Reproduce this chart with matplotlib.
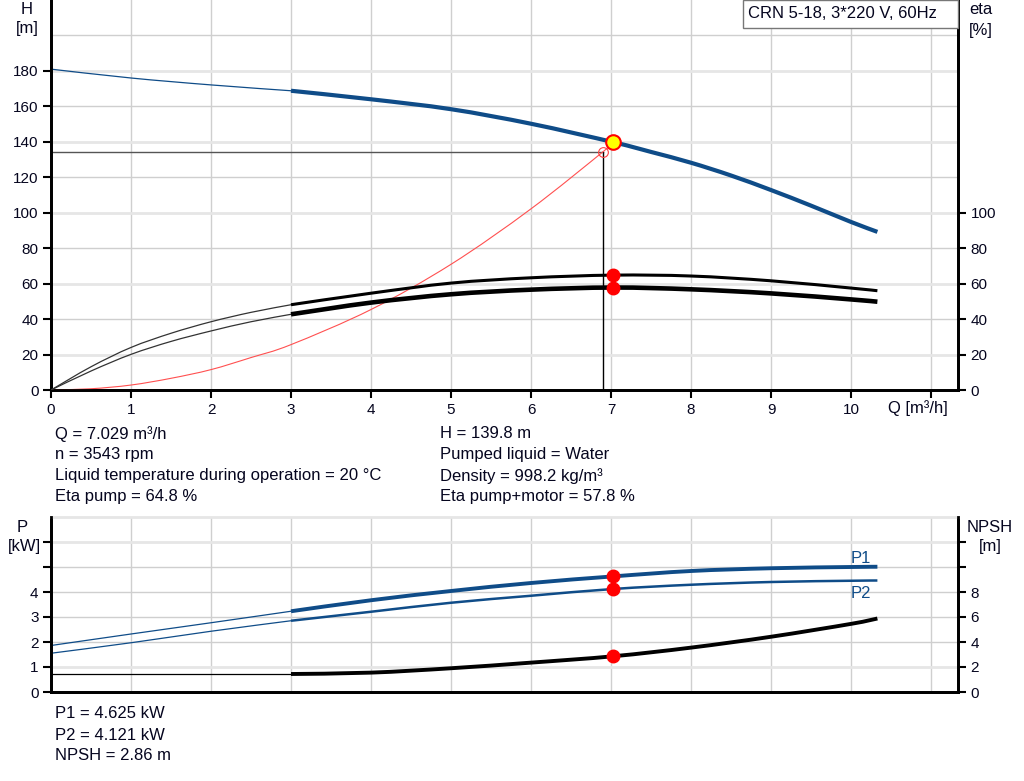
import matplotlib
matplotlib.use("Agg")
import matplotlib.pyplot as plt
from matplotlib.patches import Rectangle, PathPatch
from matplotlib.path import Path

plt.rcParams['font.family'] = ['Liberation Sans', 'DejaVu Sans']
plt.rcParams['font.size'] = 11

# ---------------- data ----------------
title = "CRN 5-18, 3*220 V, 60Hz"

# Head curve
q_h_thin = [0, 1, 2, 3]
h_thin = [181, 176, 172.1, 168.8]
q_h = [3, 4, 5, 6, 7.029, 7.5, 8, 8.5, 9, 9.5, 10, 10.33]
h_vals = [168.8, 164, 158.4, 150.2, 139.8, 134.3, 128.2, 121, 112.8, 104, 94.8, 89.2]

# Efficiency curves (eta pump, eta pump+motor)
q_eta_thin = [0, 0.5, 1, 1.5, 2, 2.5, 3]
eta_pump_thin = [0, 13.1, 24, 32, 38.5, 43.8, 48.1]
eta_tot_thin = [0, 10.7, 20.1, 27.4, 33.3, 38.5, 42.7]
q_eta = [3, 4, 5, 6, 7.029, 8, 9, 10, 10.33]
eta_pump = [48.1, 54.6, 60.3, 63.3, 64.8, 64.3, 61.6, 57.5, 56]
eta_tot = [42.7, 49.3, 54, 56.6, 57.8, 56.8, 54.5, 51.1, 49.8]

# System curve
q_sys = [0, 0.5, 1, 1.5, 2, 2.5, 3, 4, 5, 6, 6.9, 7.029]
h_sys = [0, 0.7, 2.8, 6.6, 11.5, 18.3, 25.6, 45.4, 70.9, 102.2, 134.4, 139.8]

# Power curves
q_p_thin = [0, 1, 2, 3]
p1_thin = [1.86, 2.32, 2.77, 3.23]
p2_thin = [1.55, 1.97, 2.43, 2.85]
q_p = [3, 4, 5, 6, 7.029, 8, 9, 10, 10.33]
p1_vals = [3.23, 3.67, 4.04, 4.36, 4.625, 4.84, 4.95, 5.0, 5.01]
p2_vals = [2.85, 3.21, 3.57, 3.85, 4.121, 4.29, 4.4, 4.45, 4.46]

# NPSH curve
q_npsh_thin = [0, 3]
npsh_thin = [1.44, 1.44]
q_npsh = [3, 4, 5, 6, 7.029, 8, 9, 10, 10.33]
npsh_vals = [1.44, 1.55, 1.9, 2.35, 2.86, 3.55, 4.42, 5.45, 5.88]

# Duty point / requested point
q_duty, h_duty = 7.029, 139.8
eta_pump_duty, eta_tot_duty = 64.8, 57.8
p1_duty, p2_duty, npsh_duty = 4.625, 4.121, 2.86
q_req, h_req = 6.9, 134.4

x_ticks = list(range(0, 12))
x_labels = [str(i) for i in range(0, 11)] + [""]
h_ticks = list(range(0, 200, 20))
eta_ticks = list(range(0, 120, 20))
p_ticks = list(range(0, 7))
p_labels = ["0", "1", "2", "3", "4", "", ""]
npsh_ticks = list(range(0, 14, 2))
npsh_labels = ["0", "2", "4", "6", "8", "", ""]

info_left = ["Q = 7.029 m³/h", "n = 3543 rpm",
             "Liquid temperature during operation = 20 °C", "Eta pump = 64.8 %"]
info_right = ["H = 139.8 m", "Pumped liquid = Water",
              "Density = 998.2 kg/m³", "Eta pump+motor = 57.8 %"]
info_bottom = ["P1 = 4.625 kW", "P2 = 4.121 kW", "NPSH = 2.86 m"]

# ---------------- styling ----------------
W, H = 1024, 781
BLUE = '#0f4c88'
TXT = '#05051e'
GRID_D = '#cfcfcf'
GRID_L = '#e6e6e6'
XMAX = (958 - 51) / 80.0
FS_TXT = 12

fig = plt.figure(figsize=(W / 100, H / 100), dpi=100)


def fx(px):
    return px / W


def fy(py):
    return 1 - py / H


def style_axes(ax):
    for s in ['left', 'bottom', 'right']:
        ax.spines[s].set_linewidth(2)
        ax.spines[s].set_color('black')
    ax.tick_params(direction='out', length=6, width=1.5, colors='black',
                   labelcolor=TXT, labelsize=11, pad=3)


def smooth(ax, xs, ys, color, lw, z=3):
    """Draw a smooth curve through the data points (Catmull-Rom as Bezier)."""
    n = len(xs)
    pts = list(zip(xs, ys))
    verts = [pts[0]]
    codes = [Path.MOVETO]
    for i in range(n - 1):
        p0 = pts[i - 1] if i > 0 else pts[i]
        p1 = pts[i]
        p2 = pts[i + 1]
        p3 = pts[i + 2] if i + 2 < n else pts[i + 1]
        c1 = (p1[0] + (p2[0] - p0[0]) / 6.0, p1[1] + (p2[1] - p0[1]) / 6.0)
        c2 = (p2[0] - (p3[0] - p1[0]) / 6.0, p2[1] - (p3[1] - p1[1]) / 6.0)
        verts += [c1, c2, p2]
        codes += [Path.CURVE4] * 3
    patch = PathPatch(Path(verts, codes), fill=False, edgecolor=color, lw=lw,
                      capstyle='butt', joinstyle='round', zorder=z,
                      transform=ax.transData)
    ax.add_patch(patch)


# ---------------- top axes ----------------
ax = fig.add_axes([fx(51), fy(390), fx(958 - 51), fy(0) - fy(390)])
ax.set_xlim(0, XMAX)
ax.set_ylim(0, 220)
style_axes(ax)
ax.spines['top'].set_visible(False)
for xv in range(1, 12):
    ax.axvline(xv, color=GRID_D, lw=1, zorder=0)
for yv in range(20, 220, 20):
    if yv % 40 == 0:
        ax.axhline(yv, color=GRID_D, lw=1, zorder=0)
    else:
        ax.axhline(yv, color=GRID_L, lw=2, zorder=0)
ax.set_xticks(x_ticks)
ax.set_xticklabels(x_labels)
ax.set_yticks(h_ticks)

ax2 = ax.twinx()
ax2.set_ylim(0, 220)
ax2.set_xlim(0, XMAX)
style_axes(ax2)
ax2.spines['top'].set_visible(False)
ax2.set_yticks(eta_ticks)

# reference lines to requested point
ax.plot([0, q_req], [h_req, h_req], color='#555555', lw=1, zorder=2)
ax.plot([q_req, q_req], [0, h_req], color='black', lw=1, zorder=2)

# head
smooth(ax, q_h_thin, h_thin, BLUE, 0.9)
smooth(ax, q_h, h_vals, BLUE, 3)
# system curve
smooth(ax, q_sys, h_sys, '#ff5050', 0.8)
ax.plot([q_req], [h_req], 'o', ms=7, mfc='none', mec='#ff4040', mew=0.8, zorder=4)
# efficiencies
smooth(ax2, q_eta_thin, eta_pump_thin, '#333333', 0.9)
smooth(ax2, q_eta_thin, eta_tot_thin, '#333333', 0.9)
smooth(ax2, q_eta, eta_pump, 'black', 2.2)
smooth(ax2, q_eta, eta_tot, 'black', 3.3)
ax2.plot([q_duty, q_duty], [eta_pump_duty, eta_tot_duty], 'o', color='red',
         ms=9, mec='red', zorder=5, ls='none')
ax2.plot([q_duty], [h_duty], 'o', ms=10.5, mfc='#ffff00', mec='#ff0000', mew=1.5, zorder=6)

# ---------------- bottom axes ----------------
bx = fig.add_axes([fx(51), fy(692), fx(958 - 51), fy(517) - fy(692)])
bx.set_xlim(0, XMAX)
bx.set_ylim(0, 7)
style_axes(bx)
bx.spines['top'].set_color(GRID_L)
bx.spines['top'].set_linewidth(2)
for xv in range(1, 12):
    bx.axvline(xv, color=GRID_D, lw=1, zorder=0)
for yv in range(1, 7):
    bx.axhline(yv, color=GRID_L if yv in (1, 6) else GRID_D,
               lw=2 if yv in (1, 6) else 1, zorder=0)
bx.set_xticks(x_ticks)
bx.tick_params(axis='x', length=0, labelbottom=False)
bx.set_yticks(p_ticks)
bx.set_yticklabels(p_labels)

bx2 = bx.twinx()
bx2.set_xlim(0, XMAX)
bx2.set_ylim(0, 14)
style_axes(bx2)
bx2.spines['top'].set_visible(False)
bx2.set_yticks(npsh_ticks)
bx2.set_yticklabels(npsh_labels)

smooth(bx, q_p_thin, p1_thin, BLUE, 0.9)
smooth(bx, q_p_thin, p2_thin, BLUE, 0.9)
smooth(bx, q_p, p1_vals, BLUE, 2.8)
smooth(bx, q_p, p2_vals, BLUE, 1.8)
bx2.plot(q_npsh_thin, npsh_thin, color='black', lw=0.9, zorder=3)
smooth(bx2, q_npsh, npsh_vals, 'black', 2.8)
bx.plot([q_duty, q_duty], [p1_duty, p2_duty], 'o', color='red', ms=9, ls='none', zorder=5)
bx2.plot([q_duty], [npsh_duty], 'o', color='red', ms=9, zorder=5)
bx.text(10.0, 5.35, "P1", color=BLUE, fontsize=FS_TXT, ha='left', va='center')
bx.text(10.0, 3.92, "P2", color=BLUE, fontsize=FS_TXT, ha='left', va='center')

# ---------------- figure texts ----------------
def ftext(px, py, s, ha='left'):
    fig.text(fx(px), fy(py), s, ha=ha, va='center', color=TXT, fontsize=FS_TXT)


ftext(27, 9, "H", ha='center')
ftext(27, 29, "[m]", ha='center')
ftext(981, 10, "eta", ha='center')
ftext(981, 30, "[%]", ha='center')
ftext(888, 408, "Q [m³/h]")
ftext(22, 527, "P", ha='center')
ftext(24, 547, "[kW]", ha='center')
ftext(990, 527, "NPSH", ha='center')
ftext(990, 547, "[m]", ha='center')

for i, s in enumerate(info_left):
    ftext(55, 434 + 21 * i, s)
for i, s in enumerate(info_right):
    ftext(440, 434 + 21 * i, s)
for i, s in enumerate(info_bottom):
    ftext(55, 714 + 21 * i, s)

fig.patches.append(Rectangle((fx(743), fy(28)), fx(958 - 743), fy(0) - fy(28),
                             transform=fig.transFigure, facecolor='white',
                             edgecolor='#777777', lw=1, zorder=10))
t = fig.text(fx(748), fy(14), title, ha='left', va='center', color=TXT, fontsize=FS_TXT)
t.set_zorder(11)

fig.savefig("out.png", dpi=100)
